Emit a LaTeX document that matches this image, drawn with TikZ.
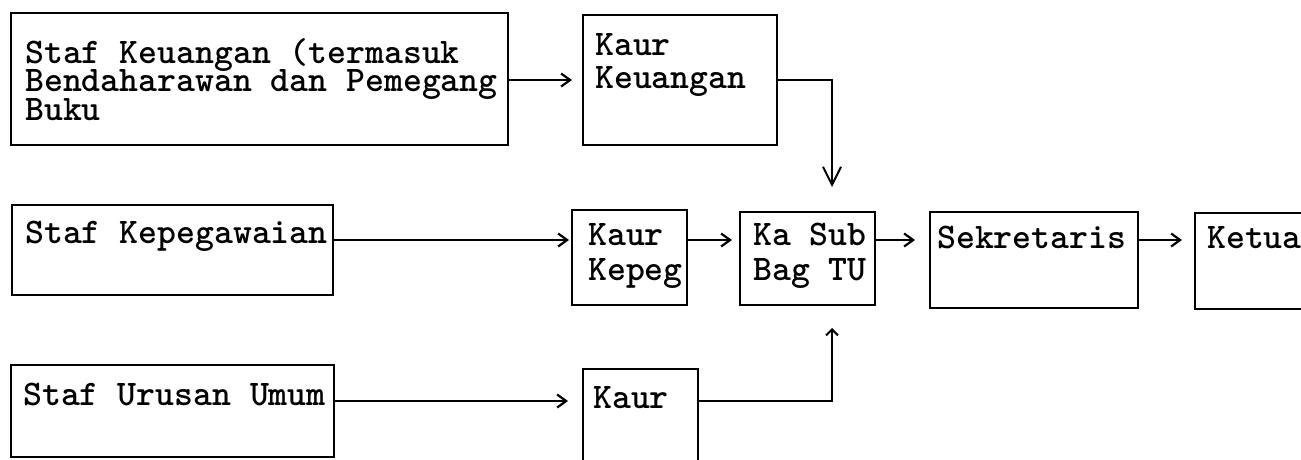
\documentclass[tikz,border=0pt]{standalone}
\usepackage{fontspec}
\usepackage{tikz}
\usetikzlibrary{arrows.meta}

\newcommand{\ketik}{\ttfamily\bfseries\fontsize{36}{36}\selectfont\spaceskip=18.9pt\relax}
\tikzset{
  kotak/.style={draw, line width=2.2pt, anchor=north west, inner sep=0pt, outer sep=0pt},
  teks/.style={anchor=base west, inner sep=0pt, font=\ketik},
  panah/.style={line width=2pt, -{Straight Barb[length=9pt,width=13pt,line width=2.2pt]}, shorten >=10pt},
}

\begin{document}
\begin{tikzpicture}[x=1pt,y=-1pt]
\useasboundingbox (0,0) rectangle (1301,459);
%%% The rows where the connectors run
\coordinate (baris1) at (0,80);
\coordinate (baris2) at (0,240);
\coordinate (baris3) at (0,401);
\coordinate (masukatas) at (832,187);
\coordinate (masukbawah) at (832,328);
%%% The staff boxes on the left
\node[kotak, minimum width=497pt, minimum height=132pt,
  label={[teks, xshift=14pt, yshift=-50pt]north west:Staf Keuangan (termasuk},
  label={[teks, xshift=14pt, yshift=-78.5pt]north west:Bendaharawan dan Pemegang},
  label={[teks, xshift=14pt, yshift=-107pt]north west:Buku}] (stkeu) at (11,13) {};
\node[kotak, minimum width=321pt, minimum height=90pt,
  label={[teks, xshift=13pt, yshift=-38pt]north west:Staf Kepegawaian}] (stpeg) at (12,205) {};
\node[kotak, minimum width=323pt, minimum height=92pt,
  label={[teks, xshift=12pt, yshift=-40pt]north west:Staf Urusan Umum}] (sturus) at (11,365) {};
%%% The heads of the sections
\node[kotak, minimum width=194pt, minimum height=130pt,
  label={[teks, xshift=12pt, yshift=-40pt]north west:Kaur},
  label={[teks, xshift=12pt, yshift=-73pt]north west:Keuangan}] (kkeu) at (583,15) {};
\node[kotak, minimum width=115pt, minimum height=95pt,
  label={[teks, xshift=16pt, yshift=-35pt]north west:Kaur},
  label={[teks, xshift=16pt, yshift=-70pt]north west:Kepeg}] (kpeg) at (572,210) {};
\node[kotak, minimum width=115pt, minimum height=105pt,
  label={[teks, xshift=10pt, yshift=-39pt]north west:Kaur}] (kaurum) at (583,369) {};
%%% The chain up to the top
\node[kotak, minimum width=135pt, minimum height=93pt,
  label={[teks, xshift=13pt, yshift=-33pt]north west:Ka Sub},
  label={[teks, xshift=13pt, yshift=-68pt]north west:Bag TU}] (kasub) at (740,212) {};
\node[kotak, minimum width=208pt, minimum height=96pt,
  label={[teks, xshift=7pt, yshift=-36pt]north west:Sekretaris}] (sekr) at (930,212) {};
\node[kotak, minimum width=150pt, minimum height=96pt,
  label={[teks, xshift=12pt, yshift=-35pt]north west:Ketua}] (ketua) at (1195,213) {};
%
\draw[panah, shorten >=11pt] (stkeu.east |- baris1) -- (kkeu.west |- baris1);
\draw[panah, shorten >=3pt] (stpeg.east |- baris2) -- (kpeg.west |- baris2);
\draw[panah, shorten >=15pt] (sturus.east |- baris3) -- (kaurum.west |- baris3);
\draw[panah, shorten >=8pt] (kpeg.east |- baris2) -- (kasub.west |- baris2);
\draw[panah, shorten >=15pt] (kasub.east |- baris2) -- (sekr.west |- baris2);
\draw[panah, shorten >=13pt] (sekr.east |- baris2) -- (ketua.west |- baris2);
%%%% The two lines coming into Ka Sub Bag TU
\draw[panah, shorten >=0pt, -{Straight Barb[length=18pt,width=18pt,line width=2pt]}] (kkeu.east |- baris1) -| (masukatas);
\draw[panah, shorten >=0pt, -{Straight Barb[length=6pt,width=12pt,line width=2pt]}] (kaurum.east |- baris3) -| (masukbawah);
\end{tikzpicture}
\end{document}
